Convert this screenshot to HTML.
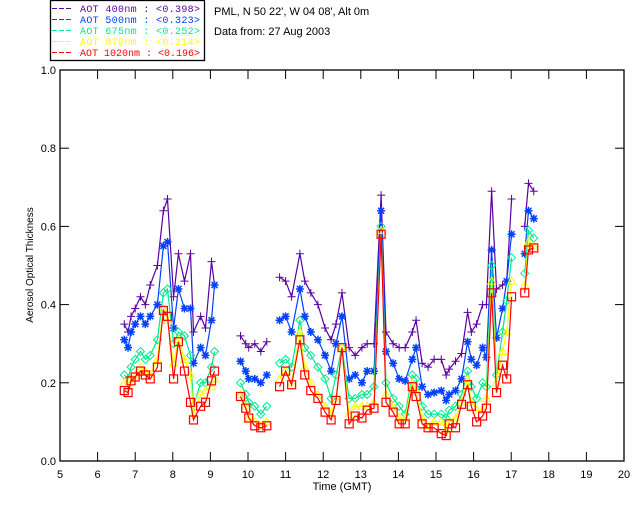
<!DOCTYPE html>
<html><head><meta charset="utf-8"><style>
html,body{margin:0;padding:0;background:#fff;}
svg{display:block;font-family:"Liberation Sans",sans-serif;}
</style></head><body>
<svg id="chart" width="640" height="512" viewBox="0 0 640 512">
<rect x="50.5" y="0.5" width="154" height="60" fill="#fff" stroke="#000" stroke-width="1.3"/>
<g font-size="10" font-family="Liberation Mono, monospace" xml:space="preserve">
<g><line x1="52" y1="8.5" x2="73" y2="8.5" stroke="#5a00a0" stroke-dasharray="5,2"/><text x="80" y="12" fill="#5a00a0" textLength="120">AOT  400nm : &lt;0.398&gt;</text></g>
<g><line x1="52" y1="19.5" x2="73" y2="19.5" stroke="#0040ff" stroke-dasharray="5,2"/><text x="80" y="23" fill="#0040ff" textLength="120">AOT  500nm : &lt;0.323&gt;</text></g>
<g><line x1="52" y1="30.5" x2="73" y2="30.5" stroke="#00e890" stroke-dasharray="5,2"/><text x="80" y="34" fill="#00e890" textLength="120">AOT  675nm : &lt;0.252&gt;</text></g>
<g><line x1="52" y1="41.5" x2="73" y2="41.5" stroke="#ffff00" stroke-dasharray="5,2"/><text x="80" y="45" fill="#ffff00" textLength="120">AOT  870nm : &lt;0.214&gt;</text></g>
<g><line x1="52" y1="52.5" x2="73" y2="52.5" stroke="#ff0000" stroke-dasharray="5,2"/><text x="80" y="56" fill="#ff0000" textLength="120">AOT 1020nm : &lt;0.196&gt;</text></g>
</g>
<text x="214" y="15" font-size="11">PML, N 50 22', W 04 08', Alt 0m</text>
<text x="214" y="35" font-size="11">Data from: 27 Aug 2003</text>
<g id="axes"></g>
<g id="series"></g>
<text x="0" y="0" font-size="10" text-anchor="middle" transform="translate(33,265) rotate(-90)">Aerosol Optical Thickness</text>
<text x="342" y="490" font-size="11" text-anchor="middle">Time (GMT)</text>
</svg>
<script>
const times=[6.71,6.81,6.89,7.00,7.14,7.27,7.40,7.59,7.75,7.86,8.02,8.15,8.31,8.47,8.55,8.74,8.87,9.03,9.11,null,
9.80,9.94,10.02,10.18,10.34,10.50,null,
10.84,11.00,11.16,11.38,11.51,11.67,11.86,12.05,12.21,12.34,12.50,12.69,12.85,13.03,13.17,13.35,13.54,13.67,13.86,14.02,14.18,14.37,14.47,14.63,14.79,14.95,15.14,15.27,15.35,15.52,15.68,15.84,15.94,16.08,16.24,16.34,16.48,16.61,16.77,16.88,17.01,null,17.36,17.46,17.60];
const aot400=[.35,.33,.37,.39,.42,.40,.45,.50,.64,.67,.42,.53,.46,.53,.33,.37,.34,.51,.45,null,
.32,.30,.29,.30,.28,.305,null,
.47,.46,.42,.53,.46,.43,.40,.34,.31,.35,.43,.29,.27,.29,.30,.30,.68,.33,.30,.29,.29,.33,.36,.25,.24,.26,.26,.22,.235,.255,.275,.38,.33,.35,.40,.40,.69,.44,.45,.46,.67,null,.60,.71,.69];
const aot500=[.31,.29,.33,.35,.37,.35,.37,.40,.55,.56,.34,.44,.39,.39,.25,.29,.27,.36,.45,null,
.255,.23,.21,.21,.20,.22,null,
.36,.37,.33,.44,.37,.33,.31,.27,.23,.30,.37,.21,.22,.20,.23,.23,.64,.28,.25,.21,.205,.26,.29,.19,.17,.175,.18,.155,.17,.18,.21,.305,.26,.245,.29,.265,.54,.315,.39,.46,.58,null,.53,.64,.62];
const aot675=[.22,.21,.24,.26,.28,.26,.27,.31,.43,.44,.30,.33,.32,.27,.14,.20,.20,.24,.28,null,
.20,.17,.15,.14,.12,.14,null,
.25,.26,.24,.36,.29,.27,.24,.21,.16,.22,.29,.16,.16,.17,.17,.19,.60,.20,.16,.14,.12,.22,.21,.14,.12,.12,.12,.11,.13,.14,.17,.23,.19,.16,.20,.19,.50,.22,.33,.41,.52,null,.48,.59,.57];
const aot870=[.20,.19,.21,.22,.24,.23,.22,.26,.39,.36,.25,.31,.26,.22,.12,.17,.18,.19,.21,null,
.17,.14,.11,.10,.09,.10,null,
.21,.23,.20,.33,.24,.20,.17,.14,.12,.16,.29,.12,.14,.14,.14,.15,.59,.17,.14,.11,.11,.20,.18,.11,.09,.10,.10,.08,.10,.11,.15,.21,.15,.13,.13,.16,.46,.20,.28,.33,.46,null,.45,.56,.55];
const aot1020=[.18,.175,.205,.215,.23,.22,.21,.24,.385,.37,.21,.305,.23,.15,.105,.14,.15,.205,.23,null,
.165,.135,.11,.09,.085,.09,null,
.19,.23,.195,.31,.22,.18,.16,.125,.105,.155,.29,.095,.115,.11,.13,.135,.58,.15,.125,.095,.095,.19,.165,.095,.085,.085,.07,.065,.095,.085,.145,.195,.14,.10,.115,.135,.43,.175,.245,.21,.42,null,.43,.54,.545];
const xTicks=[5,6,7,8,9,10,11,12,13,14,15,16,17,18,19,20];
const yTicks=[0.0,0.2,0.4,0.6,0.8,1.0];
const NS="http://www.w3.org/2000/svg";
const X0=60,X1=624,Y0=461,Y1=70;
function sx(t){return X0+(t-5)/15*(X1-X0);}
function sy(v){return Y0-v*(Y0-Y1);}
function mk(tag,attrs,parent){const e=document.createElementNS(NS,tag);for(const k in attrs)e.setAttribute(k,attrs[k]);parent.appendChild(e);return e;}
const axes=document.getElementById('axes');
const frame=mk('rect',{x:X0,y:Y1,width:X1-X0,height:Y0-Y1,fill:'none',stroke:'#000','stroke-width':1.3},axes);


xTicks.forEach(t=>{
 const x=sx(t);
 const a=mk('line',{x1:x,y1:Y0,x2:x,y2:Y0-9,stroke:'#000'},axes);
 
 
 const b=mk('line',{x1:x,y1:Y1,x2:x,y2:Y1+9,stroke:'#000'},axes);
 
 
 const l=mk('text',{x:x,y:Y0+17,'font-size':11,'text-anchor':'middle'},axes);
 l.textContent=String(t);
 
 
});
yTicks.forEach(v=>{
 const y=sy(v);
 const a=mk('line',{x1:X0,y1:y,x2:X0+9,y2:y,stroke:'#000'},axes);
 
 
 const b=mk('line',{x1:X1,y1:y,x2:X1-9,y2:y,stroke:'#000'},axes);
 
 
 const l=mk('text',{x:X0-4,y:y+4,'font-size':11,'text-anchor':'end'},axes);
 l.textContent=v.toFixed(1);
 
 
});
const seriesG=document.getElementById('series');
const defs=[[aot400,'#5a00a0','plus','aot-400nm'],[aot500,'#0040ff','star','aot-500nm'],[aot675,'#00e890','diamond','aot-675nm'],[aot870,'#ffff00','triangle','aot-870nm'],[aot1020,'#ff0000','square','aot-1020nm']];
defs.forEach(([vals,col,shape,name])=>{
 const g=mk('g',{},seriesG);
 
 
 let d='',pen=false;
 times.forEach((t,i)=>{
  const v=vals[i];
  if(t===null||v===null||v===undefined){pen=false;return;}
  d+=(pen?'L':'M')+sx(t).toFixed(1)+' '+sy(v).toFixed(1)+' ';pen=true;
 });
 const p=mk('path',{d:d,fill:'none',stroke:col,'stroke-width':1.2},g);
 
 
 times.forEach((t,i)=>{
  const v=vals[i];
  if(t===null||v===null||v===undefined)return;
  const x=sx(t),y=sy(v);let m;
  if(shape==='plus')m=mk('path',{d:`M${x-4} ${y}H${x+4}M${x} ${y-4}V${y+4}`,stroke:col,fill:'none'},g);
  else if(shape==='star')m=mk('path',{d:`M${x-4} ${y}H${x+4}M${x} ${y-4}V${y+4}M${x-3} ${y-3}L${x+3} ${y+3}M${x-3} ${y+3}L${x+3} ${y-3}`,stroke:col,fill:'none','stroke-width':1.5},g);
  else if(shape==='diamond')m=mk('path',{d:`M${x} ${y-4}L${x+4} ${y}L${x} ${y+4}L${x-4} ${y}Z`,stroke:col,fill:'none'},g);
  else if(shape==='triangle')m=mk('path',{d:`M${x} ${y-4}L${x+4} ${y+3}L${x-4} ${y+3}Z`,stroke:col,fill:'none'},g);
  else m=mk('rect',{x:x-4,y:y-4,width:8,height:8,stroke:col,fill:'none','stroke-width':1.2},g);
  
  
 });
});
</script>
</body></html>
